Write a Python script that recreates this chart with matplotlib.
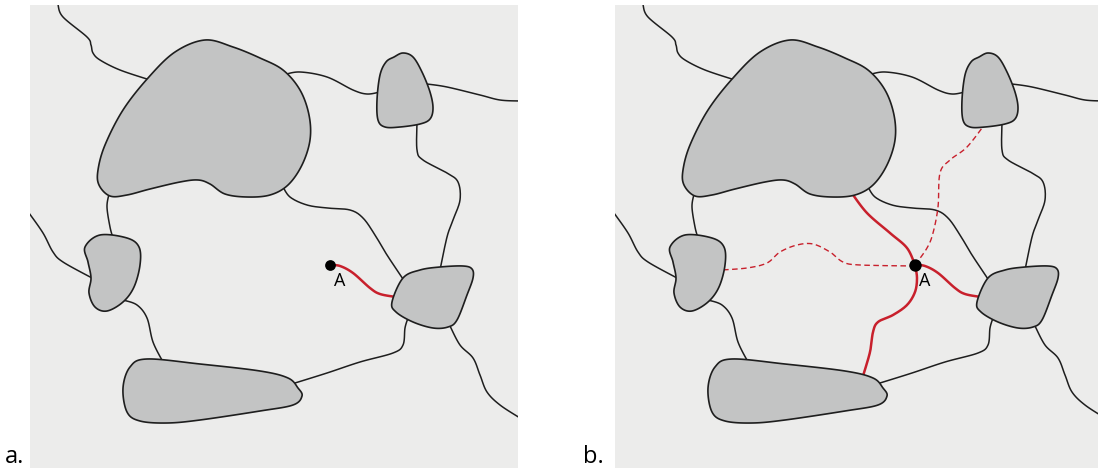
import numpy as np
import matplotlib.pyplot as plt
from matplotlib.patches import Polygon, Rectangle

# Shapes traced in panel-a pixel coordinates (x right, y down).
big_blob = [(205, 40), (233, 47), (260, 58), (283, 70), (300, 90), (309, 115),
            (310, 140), (302, 165), (288, 185), (270, 195), (247, 197), (225, 194),
            (210, 184), (198, 180), (180, 182), (150, 189), (127, 195), (110, 196),
            (99, 185), (98, 170), (105, 145), (123, 110), (148, 78), (175, 52)]
small_blob = [(403, 53), (413, 57), (422, 72), (430, 92), (433, 108), (430, 119),
              (420, 124), (400, 127), (385, 127), (378, 120), (377, 100), (380, 75),
              (386, 62), (394, 57)]
left_blob = [(100, 235), (127, 238), (139, 247), (140, 265), (134, 287), (123, 302),
             (107, 311), (95, 307), (89, 293), (91, 278), (88, 262), (85, 247)]
bottom_blob = [(147, 359), (200, 364), (260, 371), (288, 378), (298, 388), (302, 396),
               (293, 405), (260, 411), (200, 420), (167, 423), (140, 421), (127, 412),
               (123, 388), (130, 367)]
right_blob = [(403, 278), (420, 270), (440, 267), (463, 266), (472, 269), (473, 278),
              (467, 295), (457, 320), (448, 327), (433, 328), (413, 322), (396, 312),
              (392, 302)]
blobs = [big_blob, small_blob, left_blob, bottom_blob, right_blob]

roads = [
    [(58, 5), (63, 17), (87, 37), (91, 45), (93, 53), (100, 60), (120, 70), (150, 80)],
    [(283, 75), (300, 72), (327, 77), (353, 90), (367, 94), (380, 92)],
    [(427, 84), (447, 87), (480, 95), (500, 100), (520, 101)],
    [(417, 122), (417, 150), (423, 160), (447, 173), (458, 182), (460, 200),
     (453, 220), (447, 237), (440, 270)],
    [(282, 185), (290, 197), (307, 205), (327, 208), (350, 210), (363, 218),
     (375, 235), (387, 255), (405, 282)],
    [(109, 194), (107, 207), (110, 227), (113, 238)],
    [(29, 213), (43, 233), (53, 252), (63, 262), (92, 278)],
    [(123, 300), (137, 305), (147, 318), (153, 342), (163, 362)],
    [(295, 383), (327, 373), (360, 362), (393, 353), (403, 345), (405, 328), (408, 318)],
    [(450, 326), (460, 345), (473, 358), (480, 375), (487, 392), (500, 405), (520, 418)],
]

point_a = (330, 265)
red_a = [(330, 265), (340, 266), (353, 273), (370, 288), (380, 294), (396, 297)]
red_big = [(330, 265), (322, 248), (305, 233), (282, 213), (266, 192)]
red_down = [(330, 265), (332, 278), (330, 292), (322, 305), (308, 315), (293, 322),
            (288, 332), (285, 352), (278, 376)]
dash_left = [(330, 266), (275, 265), (258, 262), (245, 252), (228, 244), (212, 245),
             (195, 252), (182, 263), (162, 268), (136, 270)]
dash_up = [(330, 265), (342, 248), (348, 233), (353, 207), (355, 173), (365, 160),
           (382, 147), (400, 124)]

panel_labels = ["a.", "b."]
offsets = [0, 585]

BG = "#ececeb"
FILL = "#c3c4c4"
EDGE = "#1e1e1e"
RED = "#c8202c"


def catmull_rom(pts, closed=False, n=16):
    p = np.asarray(pts, float)
    if closed:
        p = np.vstack([p[-1], p, p[0], p[1]])
    else:
        p = np.vstack([p[0], p, p[-1]])
    t = np.linspace(0, 1, n, endpoint=False)[:, None]
    out = []
    for i in range(1, len(p) - 2):
        p0, p1, p2, p3 = p[i - 1], p[i], p[i + 1], p[i + 2]
        out.append(0.5 * (2 * p1 + (-p0 + p2) * t + (2 * p0 - 5 * p1 + 4 * p2 - p3) * t ** 2
                          + (-p0 + 3 * p1 - 3 * p2 + p3) * t ** 3))
    out.append(p[-2][None])
    return np.vstack(out)


fig = plt.figure(figsize=(10.98, 4.70), dpi=100)
ax = fig.add_axes([0, 0, 1, 1])
ax.set_xlim(0, 1098)
ax.set_ylim(470, 0)
ax.axis("off")

for k, dx in enumerate(offsets):
    bg = Rectangle((30 + dx, 5), 488, 463, facecolor=BG, edgecolor="none", zorder=0)
    ax.add_patch(bg)

    for pts in roads:
        c = catmull_rom(pts)
        ln, = ax.plot(c[:, 0] + dx, c[:, 1], color=EDGE, lw=1.1, zorder=1,
                      solid_capstyle="butt")
        ln.set_clip_path(bg)

    if k == 0:
        reds = [red_a]
        dashed = []
    else:
        reds = [red_a, red_big, red_down]
        dashed = [dash_left, dash_up]
    for pts in reds:
        c = catmull_rom(pts)
        ax.plot(c[:, 0] + dx, c[:, 1], color=RED, lw=1.8, zorder=2)
    for pts in dashed:
        c = catmull_rom(pts)
        ax.plot(c[:, 0] + dx, c[:, 1], color=RED, lw=1.0, zorder=2,
                linestyle=(0, (4, 2.5)))

    for pts in blobs:
        c = catmull_rom(pts, closed=True)
        c[:, 0] += dx
        ax.add_patch(Polygon(c, closed=True, facecolor=FILL, edgecolor=EDGE,
                             lw=1.2, zorder=3))

    ax.scatter([point_a[0] + dx], [point_a[1]], s=60 if k == 0 else 80,
               color="black", zorder=5, linewidths=0)
    ax.text(point_a[0] + dx + 10, point_a[1] + 16, "A", fontsize=13,
            family="Open Sans", ha="center", va="center", zorder=5)
    ax.text(5 + dx - (7 if k else 0), 469, panel_labels[k], fontsize=17,
            family="Open Sans", ha="left", va="bottom", zorder=5)

fig.savefig("out.png", dpi=100, facecolor="white")
